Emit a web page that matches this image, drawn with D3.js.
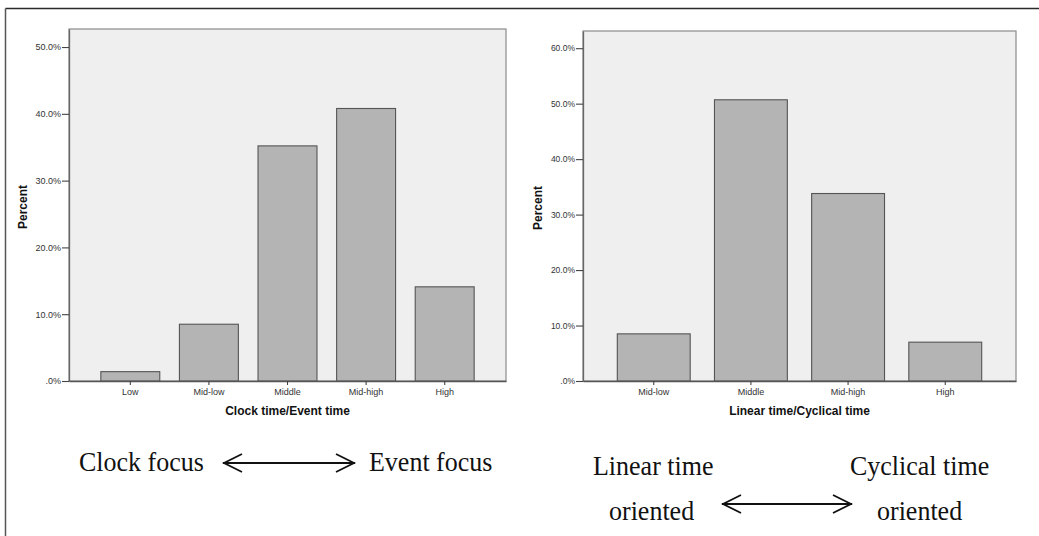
<!DOCTYPE html>
<html>
<head>
<meta charset="utf-8">
<script src="https://cdn.jsdelivr.net/npm/d3@7"></script>
<style>
  html, body { margin: 0; padding: 0; background: #fff; }
  svg { display: block; }
  text { font-family: "Liberation Sans", Arial, sans-serif; }
  .serif { font-family: "Liberation Serif", "Times New Roman", serif; }
</style>
</head>
<body>
<svg id="chart" width="1039" height="536"></svg>
<script>
// ---------- data ----------
const leftCategories = ["Low", "Mid-low", "Middle", "Mid-high", "High"];
const leftValues = [1.4, 8.5, 35.2, 40.8, 14.1];
const leftTicks = [0, 10, 20, 30, 40, 50];
const leftTitle = "Clock time/Event time";

const rightCategories = ["Mid-low", "Middle", "Mid-high", "High"];
const rightValues = [8.5, 50.7, 33.8, 7.0];
const rightTicks = [0, 10, 20, 30, 40, 50, 60];
const rightTitle = "Linear time/Cyclical time";

const yLabel = "Percent";
const leftCaptions = ["Clock focus", "Event focus"];
const rightCaptions = ["Linear time", "oriented", "Cyclical time", "oriented"];

// ---------- drawing ----------
const svg = d3.select("#chart");

// outer frame (top and left edges)
svg.append("line").attr("x1", 5.5).attr("y1", 8.5).attr("x2", 1039).attr("y2", 8.5)
  .attr("stroke", "#2a2a2a").attr("stroke-width", 1.5);
svg.append("line").attr("x1", 5.5).attr("y1", 8.5).attr("x2", 5.5).attr("y2", 536)
  .attr("stroke", "#555").attr("stroke-width", 1.5);

const tickFmt = d => d === 0 ? ".0%" : d3.format(".1f")(d) + "%";

function drawPanel(cfg) {
  const { x0, x1, y0, y1, cats, vals, ticks, yMax, title, po, tickFont, labelX } = cfg;
  const g = svg.append("g");
  const x = d3.scaleBand().domain(cats).range([x0, x1]).paddingInner(0.25).paddingOuter(po);
  const y = d3.scaleLinear().domain([0, yMax]).range([y1, y0]);

  // plot background
  g.append("rect").attr("x", x0).attr("y", y0).attr("width", x1 - x0).attr("height", y1 - y0)
    .attr("fill", "#efefef").attr("stroke", "#8a8a8a").attr("stroke-width", 1.2);

  // bars
  g.selectAll("rect.bar").data(vals).join("rect").attr("class", "bar")
    .attr("x", (d, i) => x(cats[i]))
    .attr("y", d => y(d))
    .attr("width", x.bandwidth())
    .attr("height", d => y(0) - y(d))
    .attr("fill", "#b4b4b4").attr("stroke", "#555").attr("stroke-width", 1.1);

  // y axis
  const ya = g.append("g").attr("transform", `translate(${x0},0)`)
    .call(d3.axisLeft(y).tickValues(ticks).tickFormat(tickFmt).tickSize(7).tickPadding(1).tickSizeOuter(0));
  ya.select(".domain").attr("stroke", "#666").attr("stroke-width", 1.3);
  ya.selectAll(".tick line").attr("stroke", "#444").attr("stroke-width", 1.1);
  ya.selectAll(".tick text").attr("fill", "#333").style("font-size", tickFont + "px")
    .style("font-family", "'Liberation Sans', Arial, sans-serif");

  // x axis
  const xa = g.append("g").attr("transform", `translate(0,${y1})`)
    .call(d3.axisBottom(x).tickSize(4).tickPadding(4).tickSizeOuter(0));
  xa.select(".domain").attr("stroke", "#555").attr("stroke-width", 1.5);
  xa.selectAll(".tick line").attr("stroke", "#444").attr("stroke-width", 1.1);
  xa.selectAll(".tick text").attr("fill", "#333").style("font-size", "9px")
    .style("font-family", "'Liberation Sans', Arial, sans-serif");

  // axis titles
  g.append("text").attr("x", (x0 + x1) / 2).attr("y", 415).attr("text-anchor", "middle")
    .style("font-size", "12px").style("font-weight", "bold").attr("fill", "#111").text(title);
  g.append("text").attr("transform", `translate(${labelX},${(y0 + y1) / 2 + 2}) rotate(-90)`)
    .attr("text-anchor", "middle").attr("dy", "0.35em")
    .style("font-size", "12px").style("font-weight", "bold").attr("fill", "#111").text(yLabel);
}

drawPanel({ x0: 69, x1: 506, y0: 29, y1: 381, cats: leftCategories, vals: leftValues,
  ticks: leftTicks, yMax: 52.7, title: leftTitle, po: 0.405, tickFont: 9, labelX: 23 });
drawPanel({ x0: 583, x1: 1016, y0: 31, y1: 381, cats: rightCategories, vals: rightValues,
  ticks: rightTicks, yMax: 63.1, title: rightTitle, po: 0.353, tickFont: 8.5, labelX: 538 });

// captions
function caption(txt, x, y) {
  svg.append("text").attr("class", "serif").attr("x", x).attr("y", y)
    .style("font-size", "26px").attr("fill", "#111")
    .attr("transform", `translate(0,${y}) scale(1,1.08) translate(0,${-y})`)
    .text(txt);
}
function arrow(xa, xb, y) {
  const g = svg.append("g").attr("stroke", "#111").attr("stroke-width", 1.8).attr("fill", "none");
  g.append("line").attr("x1", xa).attr("y1", y).attr("x2", xb).attr("y2", y);
  g.append("path").attr("d", `M${xa + 19},${y - 9} L${xa + 1},${y} L${xa + 19},${y + 9}`);
  g.append("path").attr("d", `M${xb - 19},${y - 9} L${xb - 1},${y} L${xb - 19},${y + 9}`);
}
caption(leftCaptions[0], 79, 471);
caption(leftCaptions[1], 369, 471);
arrow(223, 355, 463);

caption(rightCaptions[0], 593, 475);
caption(rightCaptions[1], 609, 520);
caption(rightCaptions[2], 850, 475);
caption(rightCaptions[3], 877, 520);
arrow(722, 852, 504);
</script>
</body>
</html>
